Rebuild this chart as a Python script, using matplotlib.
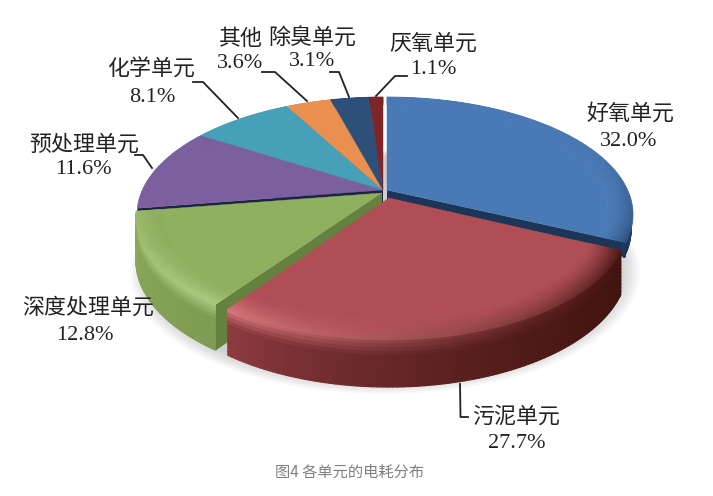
import matplotlib
matplotlib.use("Agg")
import matplotlib.pyplot as plt
from matplotlib.collections import PolyCollection
from matplotlib.colors import to_rgb
import numpy as np

plt.rcParams['font.family'] = ['Noto Sans CJK SC', 'DejaVu Sans']

units = ["好氧单元", "污泥单元", "深度处理单元", "预处理单元", "化学单元", "其他", "除臭单元", "厌氧单元"]
shares = [32.0, 27.7, 12.8, 11.6, 8.1, 3.6, 3.1, 1.1]
top_colors = ["#4a7ab5", "#b04e56", "#8fb05f", "#7b5f9e", "#45a0b8", "#e98f4f", "#2c5079", "#7f2427"]
caption = "图4 各单元的电耗分布"

# projected disc: unit circle in perspective
CX, CY = 385.0, 190.0
A, B, K = 240.6, 112.4, 0.2085


def project(r, deg, dx=0, dy=0, xs=1.0):
    t = np.radians(deg)
    u, v = r * np.sin(t), r * np.cos(t)
    d = 1 + K * v
    return CX + dx + xs * A * u / d, CY + dy - B * v / d


def mix(a, b, f):
    f = np.clip(f, 0, 1)
    return tuple((1 - f) * x + f * y for x, y in zip(to_rgb(a), to_rgb(b)))


def depth(deg):
    return 42 - 5 * np.cos(np.radians(deg))


def add_quads(ax, quads, colors, z):
    ax.add_collection(PolyCollection(quads, facecolors=colors, edgecolors=colors,
                                     linewidths=0.9, zorder=z))


def draw_top(ax, a0, a1, color, rim_a, rim_b, dx, dy, xs, z, rim_start=0.9, rim_gamma=1.0):
    th = np.linspace(a0, a1, max(int(a1 - a0), 4))
    x, y = project(rim_start, th, dx, dy, xs)
    ax.fill(np.r_[CX + dx, x], np.r_[CY + dy, y], color=color, lw=0.3, zorder=z)
    rs = np.linspace(rim_start, 1, 15)
    for j in range(len(rs) - 1):
        # outermost ring last so the rim edge stays clean
        quads, cols = [], []
        for i in range(len(th) - 1):
            f = ((th[i] - a0) / (a1 - a0)) ** rim_gamma
            rim = mix(rim_a, rim_b, f)
            xa, ya = project(rs[j], th[i:i + 2], dx, dy, xs)
            xb, yb = project(rs[j + 1], th[i:i + 2], dx, dy, xs)
            quads.append([(xa[0], ya[0]), (xa[1], ya[1]), (xb[1], yb[1]), (xb[0], yb[0])])
            g = ((rs[j] - rim_start) / (1 - rim_start)) ** 1.5
            cols.append(mix(color, rim, g))
        ax.add_collection(PolyCollection(quads, facecolors=cols, edgecolors=cols,
                                         linewidths=0.5, zorder=z))


def draw_wall(ax, a0, a1, col_a, col_b, light_a, light_b, dx, dy, xs, z, gamma=1.0, dscale=1.0):
    th = np.linspace(a0, a1, max(int(a1 - a0), 4))
    ts = np.linspace(0, 1, 13)
    quads, cols = [], []
    for i in range(len(th) - 1):
        f = ((th[i] - a0) / (a1 - a0)) ** gamma
        body = mix(col_a, col_b, f)
        light = mix(light_a, light_b, f)
        x, y = project(1, th[i:i + 2], dx, dy, xs)
        dp = depth(th[i:i + 2]) * dscale
        for j in range(len(ts) - 1):
            quads.append([(x[0], y[0] + ts[j] * dp[0]), (x[1], y[1] + ts[j] * dp[1]),
                          (x[1], y[1] + ts[j + 1] * dp[1]), (x[0], y[0] + ts[j + 1] * dp[0])])
            cols.append(mix(light, body, ts[j] / 0.3))
    add_quads(ax, quads, cols, z)


def draw_cut(ax, deg, color, dx, dy, xs, z, dscale=1.0):
    x, y = project(1, deg, dx, dy, xs)
    d = depth(deg) * dscale
    ax.fill([CX + dx, x, x, CX + dx], [CY + dy, y, y + d, CY + dy + 44 * dscale],
            color=color, lw=0, zorder=z)


fig = plt.figure(figsize=(7.13, 4.96), dpi=100)
ax = fig.add_axes([0, 0, 1, 1])
ax.set_xlim(0, 713)
ax.set_ylim(496, 0)
ax.axis("off")

# soft shadow under the pie
th_all = np.linspace(0, 360, 361)
for s in np.linspace(1.035, 0.96, 14):
    x, y = project(s, th_all, 0, 56)
    ax.fill(x, y, color="#505050", alpha=0.02, lw=0, zorder=1)

edges = np.r_[0, np.cumsum(shares)] * 3.6

# back group, nudged left of the blue slice
for i in [3, 4, 5, 6, 7]:
    draw_cut(ax, edges[i], "#1c2344", -2, 0, 1.0, 2)
    draw_top(ax, edges[i], edges[i + 1], top_colors[i],
             top_colors[i], top_colors[i], -2, 0, 1.0, 3)

# blue slice, only a thin wall shows past the red one
draw_cut(ax, edges[1], "#1d3557", 2, 0, 1.0, 4, dscale=0.34)
draw_wall(ax, edges[0] + 85, edges[1], "#24426c", "#1d3557", "#2c5079", "#24426c", 0, 0, 1.0, 4, dscale=0.34)
draw_top(ax, edges[0], edges[1], top_colors[0], top_colors[0], "#2b4d7c", 2, 0, 1.0, 5, rim_gamma=4.0)

# green slice
draw_wall(ax, edges[2], edges[3], "#7f9c52", "#8aa85a", "#a9c67c", "#a3bf72", -3, 3, 1.0, 6)
draw_cut(ax, edges[2], "#66803f", -3, 3, 1.0, 6)
draw_top(ax, edges[2], edges[3], top_colors[2], "#aecb80", "#9dbb6d", -3, 3, 1.0, 7)

# red slice pulled out to the front
draw_wall(ax, edges[1], edges[2], "#421410", "#8e3b40", "#4a1512", "#d9777c", 4, 8, 0.97, 8, gamma=1.7)
draw_top(ax, edges[1], edges[2], top_colors[1], "#4a1512", "#d9777c", 4, 8, 0.97, 9, rim_start=0.87)

# leader lines
leaders = [
    ([460, 460.5, 468], [384, 417, 417]),
    ([135, 143, 152], [155, 155, 168]),
    ([193, 203, 238], [82, 82, 118]),
    ([262, 275, 307], [72, 72, 101]),
    ([330, 339, 349], [72, 72, 97]),
    ([407, 395, 376], [76, 76, 96]),
]
for lx, ly in leaders:
    ax.plot(lx, ly, color="#222222", lw=1.3, zorder=10, solid_joinstyle="round")

name_pos = [(630, 114), (516, 417), (88, 308), (84, 145), (151, 70), (240, 39), (312, 39), (433, 44)]
pct_pos = [(629, 141), (517, 444), (85, 335), (83, 170), (152, 97), (240, 64), (312, 62), (433, 70)]
for name, share, np_, pp in zip(units, shares, name_pos, pct_pos):
    ax.text(np_[0], np_[1], name, fontsize=15.8, color="#222222", ha="center", va="center", zorder=11)
    ax.text(pp[0], pp[1], f"{share:.1f}%", fontsize=16, color="#222222", ha="center", va="center",
            family="Liberation Serif", zorder=11)

ax.text(349.5, 472, caption, fontsize=11, color="#808080", ha="center", va="center")

fig.savefig("out.png", dpi=100, facecolor="white")
